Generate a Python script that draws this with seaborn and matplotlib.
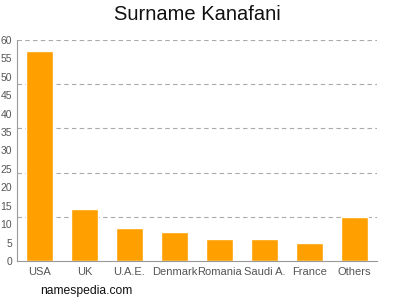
import matplotlib
matplotlib.use("Agg")
import matplotlib.pyplot as plt
import seaborn as sns
import pandas as pd

countries = ["USA", "UK", "U.A.E.", "Denmark", "Romania", "Saudi A.", "France", "Others"]
counts = [57, 14, 9, 8, 6, 6, 5, 12]
yticks = [0, 5, 10, 15, 20, 25, 30, 35, 40, 45, 50, 55, 60]
gridlines = [12, 24, 36, 48, 60]

sns.set_style("white")
plt.rcParams['font.family'] = ['Liberation Sans', 'DejaVu Sans']

df = pd.DataFrame({"country": countries, "count": counts})
fig = plt.figure(figsize=(4, 3), dpi=100)
ax = fig.add_axes([0.0425, 0.13, 0.9, 0.7367])
sns.barplot(data=df, x="country", y="count", color="#FFA000", saturation=1, width=0.62, ax=ax)
for g in gridlines:
    ax.axhline(g, color="#aaaaaa", linestyle=(0, (4, 3)), linewidth=0.8, zorder=0)
ax.set_ylim(0, 60)
ax.set_xlim(-0.5, 7.5)
ax.set_yticks(yticks)
ax.set_xlabel("")
ax.set_ylabel("")
for s in ["top", "right"]:
    ax.spines[s].set_visible(False)
for s in ["left", "bottom"]:
    ax.spines[s].set_color("#999999")
    ax.spines[s].set_linewidth(0.8)
ax.tick_params(axis="both", colors="#999999", length=3, width=0.8, pad=1)
ax.tick_params(axis="x", labelsize=8)
ax.tick_params(axis="y", labelsize=7.5, pad=0.5)
for lbl in ax.get_xticklabels() + ax.get_yticklabels():
    lbl.set_color("#555555")
fig.text(0.4925, 0.95, "Surname Kanafani", ha="center", va="center", fontsize=14.5, color="#111111")
fig.text(0.1, 0.03, "namespedia.com", ha="left", va="center", fontsize=8.7, color="#111111")
fig.savefig("out.png", dpi=100)
